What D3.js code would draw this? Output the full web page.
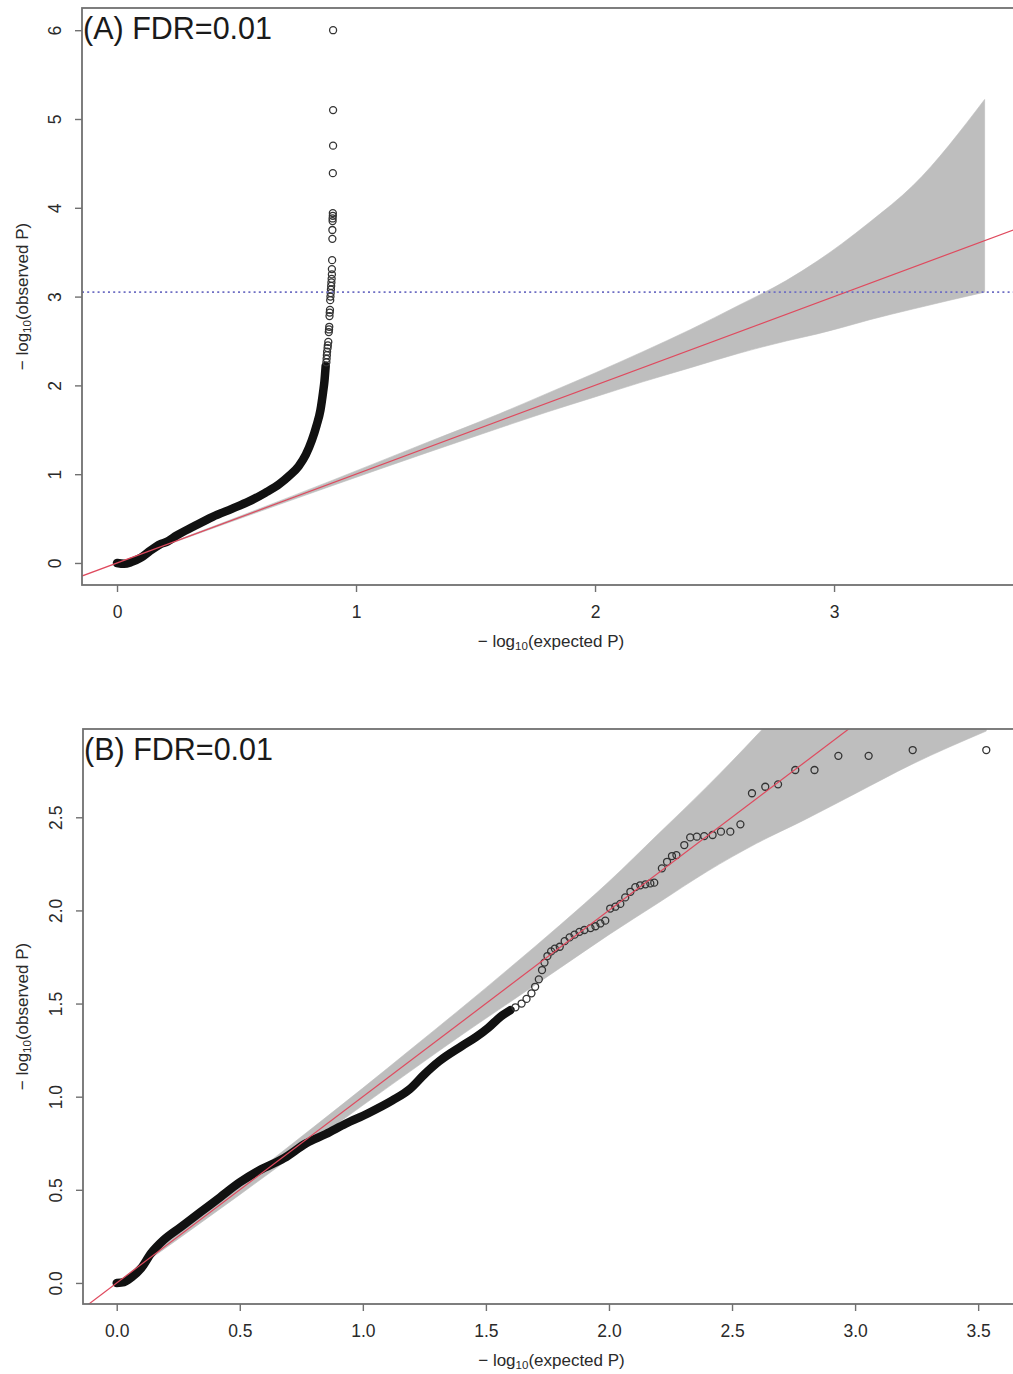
<!DOCTYPE html>
<html>
<head>
<meta charset="utf-8">
<script src="https://cdn.jsdelivr.net/npm/d3@7"></script>
<style>
  html, body { margin: 0; padding: 0; background: #fff; }
  svg { display: block; }
  text { font-family: "Liberation Sans", Arial, Helvetica, sans-serif; }
</style>
</head>
<body>
<svg id="chart" width="1013" height="1374"></svg>
<script>
// ---------- Panel A data ----------
const titleA = "(A) FDR=0.01";
const xTicksA = [0, 1, 2, 3];
const yTicksA = [0, 1, 2, 3, 4, 5, 6];
const thresholdA = 3.05;
// bulk of the QQ points (heavily overlapping)
const denseA = [
  [0.00, 0.00], [0.03, -0.01], [0.06, 0.01], [0.10, 0.06], [0.14, 0.14],
  [0.18, 0.21], [0.21, 0.24], [0.25, 0.31], [0.32, 0.41], [0.40, 0.52],
  [0.48, 0.61], [0.55, 0.69], [0.62, 0.79], [0.68, 0.89], [0.72, 0.98],
  [0.76, 1.09], [0.79, 1.22], [0.815, 1.38], [0.835, 1.55], [0.851, 1.72],
  [0.862, 1.92], [0.868, 2.05], [0.873, 2.22]
];
// upper tail points, drawn individually
const tailA = [
  [0.876, 2.26], [0.877, 2.30], [0.878, 2.34], [0.879, 2.38], [0.881, 2.42],
  [0.882, 2.45], [0.884, 2.49], [0.886, 2.60], [0.887, 2.63], [0.888, 2.66],
  [0.889, 2.78], [0.890, 2.82], [0.891, 2.85], [0.892, 2.96], [0.893, 3.00],
  [0.894, 3.04], [0.895, 3.08], [0.896, 3.12], [0.897, 3.16], [0.898, 3.20],
  [0.899, 3.25], [0.899, 3.31], [0.900, 3.41], [0.901, 3.65], [0.901, 3.75],
  [0.902, 3.85], [0.902, 3.88], [0.903, 3.91], [0.903, 3.94], [0.903, 4.39],
  [0.904, 4.70], [0.904, 5.10], [0.904, 6.00]
];
// 95% band around the null line
const bandA_x     = [0.00, 0.90, 1.30, 1.60, 1.80, 2.00, 2.20, 2.40, 2.60, 2.80, 2.93, 3.03, 3.15, 3.33, 3.63];
const bandA_upper = [0.00, 0.93, 1.36, 1.68, 1.91, 2.14, 2.38, 2.63, 2.90, 3.18, 3.40, 3.59, 3.84, 4.25, 5.22];
const bandA_lower = [0.00, 0.87, 1.245, 1.52, 1.70, 1.87, 2.04, 2.20, 2.36, 2.50, 2.58, 2.65, 2.74, 2.86, 3.05];

// ---------- Panel B data ----------
const titleB = "(B) FDR=0.01";
const xTicksB = [0.0, 0.5, 1.0, 1.5, 2.0, 2.5, 3.0, 3.5];
const yTicksB = [0.0, 0.5, 1.0, 1.5, 2.0, 2.5];
const denseB = [
  [0.00, 0.00], [0.03, 0.005], [0.06, 0.03], [0.10, 0.08], [0.14, 0.16],
  [0.19, 0.23], [0.26, 0.30], [0.34, 0.38], [0.42, 0.46], [0.50, 0.54],
  [0.58, 0.605], [0.68, 0.67], [0.77, 0.75], [0.85, 0.80], [0.93, 0.855],
  [1.02, 0.91], [1.12, 0.98], [1.19, 1.04], [1.25, 1.12], [1.31, 1.19],
  [1.40, 1.27], [1.46, 1.32], [1.51, 1.37], [1.56, 1.43], [1.60, 1.465]
];
const tailB = [
  [1.62, 1.48], [1.645, 1.50], [1.665, 1.525], [1.685, 1.555], [1.70, 1.59],
  [1.715, 1.63], [1.728, 1.68], [1.738, 1.72], [1.75, 1.755], [1.765, 1.78],
  [1.78, 1.795], [1.80, 1.805], [1.82, 1.835], [1.84, 1.855], [1.86, 1.87],
  [1.88, 1.885], [1.90, 1.895], [1.925, 1.905], [1.945, 1.915], [1.965, 1.93],
  [1.985, 1.945], [2.005, 2.01], [2.026, 2.02], [2.046, 2.035], [2.066, 2.07],
  [2.087, 2.10], [2.107, 2.125], [2.127, 2.135], [2.148, 2.14], [2.168, 2.145],
  [2.184, 2.149], [2.215, 2.226], [2.236, 2.261], [2.256, 2.292], [2.274, 2.297],
  [2.306, 2.351], [2.33, 2.392], [2.357, 2.396], [2.387, 2.399], [2.421, 2.405],
  [2.455, 2.423], [2.493, 2.423], [2.534, 2.462], [2.581, 2.629], [2.635, 2.664],
  [2.687, 2.677], [2.757, 2.754], [2.835, 2.754], [2.932, 2.830], [3.055, 2.830],
  [3.234, 2.861], [3.533, 2.861]
];
const bandB_x     = [0.00, 0.50, 0.80, 1.00, 1.20, 1.40, 1.60, 1.80, 2.00, 2.20, 2.40, 2.60, 2.80, 3.00, 3.23, 3.533];
const bandB_upper = [0.00, 0.526, 0.837, 1.046, 1.26, 1.475, 1.695, 1.92, 2.155, 2.41, 2.667, 2.94, 3.23, 3.55, 4.15, 5.13];
const bandB_lower = [0.00, 0.474, 0.763, 0.954, 1.143, 1.33, 1.51, 1.69, 1.87, 2.04, 2.21, 2.36, 2.49, 2.627, 2.784, 2.963];

const xLabelMain = "(expected P)";
const yLabelMain = "(observed P)";

// ---------- drawing ----------
const svg = d3.select("#chart");
const FONT = '"Liberation Sans", Arial, Helvetica, sans-serif';

function drawPanel(cfg) {
  const { id, box, xDomain, yDomain, xTicks, yTicks, tickFmt, title,
          band, dense, tail, threshold } = cfg;
  const x = d3.scaleLinear().domain(xDomain).range([box.left, box.right]);
  const y = d3.scaleLinear().domain(yDomain).range([box.bottom, box.top]);
  const g = svg.append("g");

  g.append("clipPath").attr("id", "clip-" + id)
    .append("rect")
    .attr("x", box.left).attr("y", box.top)
    .attr("width", box.right - box.left).attr("height", box.bottom - box.top);

  const plot = g.append("g").attr("clip-path", `url(#clip-${id})`);

  // confidence band
  const bandData = band.x.map((v, i) => ({ x: v, lo: band.lower[i], hi: band.upper[i] }));
  plot.append("path")
    .datum(bandData)
    .attr("fill", "#bebebe")
    .attr("stroke", "#bebebe")
    .attr("stroke-width", 0.6)
    .attr("d", d3.area().x(d => x(d.x)).y0(d => y(d.lo)).y1(d => y(d.hi))
      .curve(d3.curveMonotoneX));

  // dense run of overlapping points
  plot.append("path")
    .datum(dense)
    .attr("fill", "none")
    .attr("stroke", "#111")
    .attr("stroke-width", 8.5)
    .attr("stroke-linejoin", "round")
    .attr("stroke-linecap", "round")
    .attr("d", d3.line().x(d => x(d[0])).y(d => y(d[1])).curve(d3.curveMonotoneX));

  // individual points
  plot.selectAll("circle.pt")
    .data(tail)
    .join("circle")
    .attr("class", "pt")
    .attr("cx", d => x(d[0]))
    .attr("cy", d => y(d[1]))
    .attr("r", 3.5)
    .attr("fill", "none")
    .attr("stroke", "#333")
    .attr("stroke-width", 1.3);

  // y = x reference line
  const lo = Math.min(xDomain[0], yDomain[0]) - 1, hi = Math.max(xDomain[1], yDomain[1]) + 1;
  plot.append("line")
    .attr("x1", x(lo)).attr("y1", y(lo))
    .attr("x2", x(hi)).attr("y2", y(hi))
    .attr("stroke", "#df4a5e")
    .attr("stroke-width", 1.2);

  // significance threshold
  if (threshold != null) {
    plot.append("line")
      .attr("x1", box.left).attr("x2", box.right)
      .attr("y1", y(threshold)).attr("y2", y(threshold))
      .attr("stroke", "#6f6fc4")
      .attr("stroke-width", 1.6)
      .attr("stroke-dasharray", "2,3.2");
  }

  // frame
  g.append("rect")
    .attr("x", box.left).attr("y", box.top)
    .attr("width", box.right - box.left).attr("height", box.bottom - box.top)
    .attr("fill", "none")
    .attr("stroke", "#707070")
    .attr("stroke-width", 1.8);

  // x axis
  const xAxis = d3.axisBottom(x).tickValues(xTicks).tickFormat(tickFmt).tickSize(7).tickPadding(6);
  const xa = g.append("g").attr("transform", `translate(0,${box.bottom})`).call(xAxis);
  xa.select(".domain").remove();
  xa.selectAll(".tick line").attr("stroke", "#707070").attr("stroke-width", 1.4);
  xa.selectAll(".tick text")
    .attr("font-family", FONT).attr("font-size", 17.5).attr("fill", "#2a2a2a")
    .attr("dy", "1.15em");

  // y axis with labels parallel to the axis
  const yAxis = d3.axisLeft(y).tickValues(yTicks).tickFormat(tickFmt).tickSize(7).tickPadding(0);
  const ya = g.append("g").attr("transform", `translate(${box.left},0)`).call(yAxis);
  ya.select(".domain").remove();
  ya.selectAll(".tick line").attr("stroke", "#707070").attr("stroke-width", 1.4);
  ya.selectAll(".tick text")
    .attr("font-family", FONT).attr("font-size", 17.5).attr("fill", "#2a2a2a")
    .attr("x", null)
    .attr("text-anchor", "middle")
    .attr("transform", `translate(-27,0) rotate(-90)`)
    .attr("dy", "0.35em");

  // panel title
  g.append("text")
    .attr("x", box.left + 1).attr("y", box.top + 31)
    .attr("font-family", FONT).attr("font-size", 30.5).attr("fill", "#1a1a1a")
    .text(title);

  // x-axis title
  const xt = g.append("text")
    .attr("x", (box.left + box.right) / 2)
    .attr("y", box.bottom + 62)
    .attr("text-anchor", "middle")
    .attr("font-family", FONT).attr("font-size", 17).attr("fill", "#2a2a2a");
  xt.append("tspan").text("\u2212 log");
  xt.append("tspan").attr("font-size", 11.5).attr("dy", 3).text("10");
  xt.append("tspan").attr("dy", -3).text(xLabelMain);

  // y-axis title
  const yt = g.append("text")
    .attr("transform", `translate(28,${(box.top + box.bottom) / 2}) rotate(-90)`)
    .attr("text-anchor", "middle")
    .attr("font-family", FONT).attr("font-size", 17).attr("fill", "#2a2a2a");
  yt.append("tspan").text("\u2212 log");
  yt.append("tspan").attr("font-size", 11.5).attr("dy", 3).text("10");
  yt.append("tspan").attr("dy", -3).text(yLabelMain);
}

drawPanel({
  id: "a",
  box: { left: 82, right: 1020, top: 8, bottom: 585 },
  xDomain: [-0.1465, 3.778],
  yDomain: [-0.248, 6.25],
  xTicks: xTicksA, yTicks: yTicksA,
  tickFmt: d3.format("d"),
  title: titleA,
  band: { x: bandA_x, upper: bandA_upper, lower: bandA_lower },
  dense: denseA, tail: tailA,
  threshold: thresholdA
});

drawPanel({
  id: "b",
  box: { left: 83, right: 1020, top: 729, bottom: 1304 },
  xDomain: [-0.137, 3.67],
  yDomain: [-0.113, 2.974],
  xTicks: xTicksB, yTicks: yTicksB,
  tickFmt: d3.format(".1f"),
  title: titleB,
  band: { x: bandB_x, upper: bandB_upper, lower: bandB_lower },
  dense: denseB, tail: tailB,
  threshold: null
});
</script>
</body>
</html>
